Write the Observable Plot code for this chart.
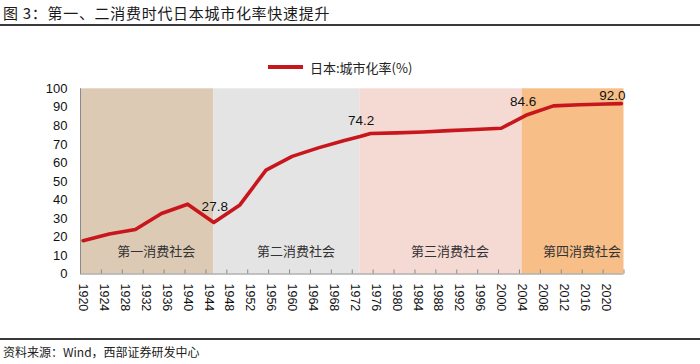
<!DOCTYPE html>
<html><head><meta charset="utf-8">
<script src="https://cdn.jsdelivr.net/npm/d3@7"></script>
<script src="https://cdn.jsdelivr.net/npm/@observablehq/plot@0.6"></script>
<style>
body{margin:0;background:#fff;font-family:"Liberation Sans","Noto Sans CJK SC",sans-serif;}
#wrap{width:700px;height:364px;position:relative;overflow:hidden}
#title{height:24px;line-height:26px;font-size:15px;letter-spacing:0.7px;color:#1a1a1a;padding-left:3px;border-bottom:2px solid #3a3a3a;white-space:nowrap;font-family:"Noto Sans CJK SC","Liberation Sans",sans-serif}
#chart{position:relative;height:312px}
#legend{position:absolute;left:268px;top:32px;height:18px;display:flex;align-items:center;font-size:13px;color:#222;font-family:"Noto Sans CJK SC",sans-serif;white-space:nowrap}
#legend .sw{width:35px;height:3.6px;background:#C8161D;margin-right:7px}
#caption{border-top:2px solid #3a3a3a;height:22px;line-height:24px;font-size:12px;color:#222;padding-left:3px;font-family:"Noto Sans CJK SC","Liberation Sans",sans-serif;white-space:nowrap}
</style></head>
<body>
<div id="wrap">
  <div id="title">图 3：第一、二消费时代日本城市化率快速提升</div>
  <div id="chart"><div id="legend"><span class="sw"></span><span>日本:城市化率(%)</span></div></div>
  <div id="caption">资料来源：Wind，西部证券研发中心</div>
</div>
<script>
// ---- data ----
const years = [1920,1925,1930,1935,1940,1945,1950,1955,1960,1965,1970,1973,1975,1980,1985,1990,1995,2000,2004,2005,2010,2015,2020,2023];
const rates = [18.0,21.6,24.0,32.7,37.7,27.8,37.3,56.1,63.5,68.1,72.1,74.2,75.9,76.2,76.7,77.4,78.0,78.7,84.6,86.0,90.8,91.4,91.8,92.0];
const bandNames = ["第一消费社会","第二消费社会","第三消费社会","第四消费社会"];
const bandStarts = [1919.5,1945,1973,2004];
const bandEnds = [1945,1973,2004,2023.5];
const labelYears = [1945,1973,2004,2023];
const labelValues = [27.8,74.2,84.6,92.0];
const tickYears = [1920,1924,1928,1932,1936,1940,1944,1948,1952,1956,1960,1964,1968,1972,1976,1980,1984,1988,1992,1996,2000,2004,2008,2012,2016,2020];
const yTicks = [0,10,20,30,40,50,60,70,80,90,100];

// ---- styles ----
const bandColors = ["#DDCAB5","#E4E4E4","#F5D9D3","#F7BE88"];
const red = "#C8161D";
const axisGray = "#8a8a8a";

const series = years.map((y,i)=>({year:y, rate:rates[i]}));
const bands = bandNames.map((n,i)=>({name:n, x1:bandStarts[i], x2:bandEnds[i], fill:bandColors[i]}));
const labels = labelYears.map((y,i)=>({year:y, value:labelValues[i]}));
const tickBounds = tickYears.map(d=>d-0.5).concat([bandEnds[bandEnds.length-1]]);

const chart = Plot.plot({
  width:700, height:312,
  marginTop:62.3, marginBottom:64.5, marginLeft:80, marginRight:76.5,
  x:{domain:[1919.5,2023.5], axis:null},
  y:{domain:[0,100], axis:null},
  style:{fontFamily:"'Liberation Sans', 'Noto Sans CJK SC', sans-serif", color:"#111", background:"transparent"},
  marks:[
    Plot.rectY(bands,{x1:"x1",x2:"x2",y1:0,y2:100,fill:d=>d.fill}),
    Plot.text(bands,{x:d=>(d.x1+d.x2)/2, y:11.8, text:"name", dx:9, fontSize:13, fill:"#333", fontFamily:"'Noto Sans CJK SC', sans-serif"}),
    Plot.ruleX([bandStarts[0]],{stroke:axisGray}),
    Plot.ruleY([0],{stroke:axisGray}),
    Plot.ruleX(tickBounds,{x:d=>d, y1:0, y2:0, insetBottom:4, stroke:axisGray}),
    Plot.line(series,{x:"year", y:"rate", stroke:red, strokeWidth:3.6, strokeLinejoin:"round"}),
    Plot.text(labels.slice(0,3),{x:"year", y:"value", text:d=>d.value.toFixed(1), dy:-16, dx:1, fontSize:13.5, fill:"#111"}),
    Plot.text(labels.slice(3),{x:"year", y:"value", text:d=>d.value.toFixed(1), dy:-8, dx:-9, fontSize:13.5, fill:"#111"}),
    Plot.text(yTicks,{x:bandStarts[0], y:d=>d, text:d=>String(d), textAnchor:"end", dx:-13, fontSize:13, fill:"#111"}),
    Plot.text(tickYears,{x:d=>d, y:0, text:d=>String(d), rotate:90, textAnchor:"start", dy:9.5, fontSize:12.5, fill:"#111"})
  ]
});
document.getElementById("chart").appendChild(chart);
</script>
</body></html>
